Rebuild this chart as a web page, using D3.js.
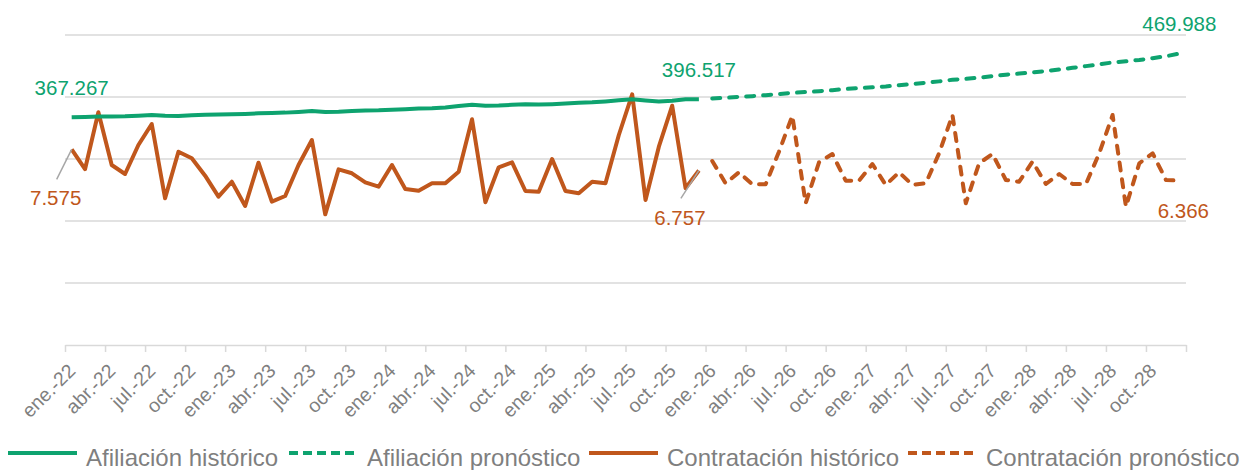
<!DOCTYPE html>
<html>
<head>
<meta charset="utf-8">
<script src="https://cdn.jsdelivr.net/npm/d3@7"></script>
<style>
  body { margin: 0; background: #fff; }
  text { font-family: Arial, "Liberation Sans", sans-serif; }
</style>
</head>
<body>
<div id="chart"></div>
<script>
// data
const monthNames = ['ene.', 'feb.', 'mar.', 'abr.', 'may.', 'jun.', 'jul.', 'ago.', 'sep.', 'oct.', 'nov.', 'dic.'];
const years = ['22', '23', '24', '25', '26', '27', '28'];
const months = years.flatMap((y) => monthNames.map((m) => `${m}-${y}`));

// ene.-22 .. dic.-25
const afiliacionHist = [
  367267, 367700, 368400, 368600, 368800, 369800, 371000, 369600, 369400, 370500, 371400, 371600,
  372000, 372600, 373600, 374200, 374800, 376000, 377400, 375800, 376300, 377400, 378400, 378600,
  379400, 380300, 381400, 382000, 383200, 385400, 387400, 385800, 386200, 387400, 388200, 387800,
  388400, 389400, 390600, 391400, 392800, 394600, 396200, 394200, 392600, 394000, 396300, 396517
];
// ene.-26 .. dic.-28
const afiliacionProno = [
  397600, 398800, 400200, 401400, 403000, 404600, 406800, 408000, 409400, 411000, 413000, 414400,
  415600, 417000, 419000, 420800, 423000, 425200, 427800, 429400, 431200, 433600, 436000, 437800,
  439600, 441800, 444400, 447000, 449800, 452600, 455800, 457600, 459800, 462600, 465800, 469988
];
const contratacionHist = [
  7575, 6805, 9008, 6968, 6619, 7742, 8555, 5679, 7483, 7227, 6554, 5741,
  6321, 5381, 7057, 5547, 5768, 6968, 7935, 5059, 6801, 6647, 6298, 6128,
  6968, 6039, 5973, 6259, 6259, 6709, 8737, 5524, 6879, 7072, 5961, 5934,
  7200, 5961, 5872, 6321, 6259, 8129, 9705, 5613, 7676, 9263, 6066, 6757
];
const contratacionProno = [
  7123, 6259, 6685, 6221, 6221, 7483, 8876, 5485, 7072, 7394, 6360, 6360,
  7006, 6194, 6685, 6194, 6259, 7421, 8903, 5485, 7034, 7394, 6387, 6321,
  7096, 6232, 6619, 6232, 6232, 7421, 8903, 5354, 7034, 7421, 6387, 6366
];

const seriesNames = ['Afiliación histórico', 'Afiliación pronóstico', 'Contratación histórico', 'Contratación pronóstico'];

// layout
const width = 1240;
const height = 470;
const plotLeft = 65;
const plotRight = 1186;
const plotTop = 35;
const plotBottom = 345;

const green = '#0ea36f';
const orange = '#c0571c';
const grey = '#7f7f7f';
const gridColor = '#d9d9d9';

const es = d3.formatLocale({ decimal: ',', thousands: '.', grouping: [3], currency: ['', ''] });
const fmt = es.format(',d');

const svg = d3.select('#chart')
  .append('svg')
  .attr('width', width)
  .attr('height', height);

// scales
const xIdx = d3.scaleLinear().domain([0, months.length]).range([plotLeft, plotRight]);
const xc = (i) => xIdx(i + 0.5);
const yAf = d3.scaleLinear().domain([0, 500000]).range([plotBottom, plotTop]);
const yCo = d3.scaleLinear().domain([0, 12000]).range([plotBottom, plotTop]);

// gridlines
svg.append('g')
  .selectAll('line')
  .data(yAf.ticks(5).filter((v) => v > 0))
  .enter()
  .append('line')
  .attr('x1', plotLeft)
  .attr('x2', plotRight)
  .attr('y1', (d) => yAf(d))
  .attr('y2', (d) => yAf(d))
  .attr('stroke', gridColor)
  .attr('stroke-width', 1.5);

// x axis (ticks every 3 months at category edges)
const xAxis = d3.axisBottom(xIdx)
  .tickValues(d3.range(0, months.length + 1, 3))
  .tickFormat('')
  .tickSize(7)
  .tickSizeOuter(0);

const axisG = svg.append('g')
  .attr('transform', `translate(0, ${plotBottom})`)
  .call(xAxis);
axisG.select('.domain').attr('stroke', gridColor).attr('stroke-width', 1.5);
axisG.selectAll('.tick line').attr('stroke', gridColor).attr('stroke-width', 1.5);

svg.append('g')
  .selectAll('text')
  .data(months.map((m, i) => ({ m, i })).filter((d) => d.i % 3 === 0))
  .enter()
  .append('text')
  .attr('transform', (d) => `translate(${xc(d.i) + 5}, ${plotBottom + 27}) rotate(-45)`)
  .attr('text-anchor', 'end')
  .attr('fill', grey)
  .style('font-size', '19.5px')
  .text((d) => d.m);

// lines
const lineAf = d3.line().x((d) => xc(d.i)).y((d) => yAf(d.v));
const lineCo = d3.line().x((d) => xc(d.i)).y((d) => yCo(d.v));

const withIdx = (arr, offset) => arr.map((v, k) => ({ i: k + offset, v }));

const afH = withIdx(afiliacionHist, 0);
const afP = withIdx(afiliacionProno, afiliacionHist.length);
const coH = withIdx(contratacionHist, 0);
const coP = withIdx(contratacionProno, contratacionHist.length);

const dash = '8,9';

svg.append('path').datum(coH)
  .attr('d', lineCo).attr('fill', 'none')
  .attr('stroke', orange).attr('stroke-width', 4).attr('stroke-linejoin', 'round');
svg.append('path').datum(coP)
  .attr('d', lineCo).attr('fill', 'none')
  .attr('stroke', orange).attr('stroke-width', 4).attr('stroke-dasharray', dash)
  .attr('stroke-linecap', 'round').attr('stroke-linejoin', 'round');
svg.append('path').datum(afH)
  .attr('d', lineAf).attr('fill', 'none')
  .attr('stroke', green).attr('stroke-width', 4).attr('stroke-linejoin', 'round');
svg.append('path').datum(afP)
  .attr('d', lineAf).attr('fill', 'none')
  .attr('stroke', green).attr('stroke-width', 4).attr('stroke-dasharray', dash)
  .attr('stroke-linecap', 'round').attr('stroke-linejoin', 'round');

// data labels
const labels = [
  { d: afH[0], y: yAf, color: green, dx: 0, dy: -22 },
  { d: afH[afH.length - 1], y: yAf, color: green, dx: 0, dy: -22 },
  { d: afP[afP.length - 1], y: yAf, color: green, dx: 0, dy: -23 },
  { d: coH[0], y: yCo, color: orange, dx: -16, dy: 56, leader: [-15, 30] },
  { d: coH[coH.length - 1], y: yCo, color: orange, dx: -19, dy: 55, leader: [-18, 28] },
  { d: coP[coP.length - 1], y: yCo, color: orange, dx: 4, dy: 37 }
];

labels.forEach((l) => {
  const px = xc(l.d.i);
  const py = l.y(l.d.v);
  if (l.leader) {
    svg.append('line')
      .attr('x1', px).attr('y1', py)
      .attr('x2', px + l.leader[0]).attr('y2', py + l.leader[1])
      .attr('stroke', '#a6a6a6').attr('stroke-width', 1.5);
  }
  svg.append('text')
    .attr('x', px + l.dx)
    .attr('y', py + l.dy)
    .attr('text-anchor', 'middle')
    .attr('fill', l.color)
    .style('font-size', '20.5px')
    .text(fmt(l.d.v));
});

// legend
const legendItems = [
  { name: seriesNames[0], color: green, dashed: false, x: 8 },
  { name: seriesNames[1], color: green, dashed: true, x: 289 },
  { name: seriesNames[2], color: orange, dashed: false, x: 589 },
  { name: seriesNames[3], color: orange, dashed: true, x: 908 }
];

const legend = svg.append('g').attr('transform', 'translate(0, 453)');
legendItems.forEach((item) => {
  legend.append('line')
    .attr('x1', item.x).attr('x2', item.x + 69)
    .attr('y1', 0).attr('y2', 0)
    .attr('stroke', item.color)
    .attr('stroke-width', 4)
    .attr('stroke-dasharray', item.dashed ? '9,5' : null);
  legend.append('text')
    .attr('x', item.x + 78)
    .attr('y', 13)
    .attr('fill', grey)
    .style('font-size', '24px')
    .text(item.name);
});
</script>
</body>
</html>
